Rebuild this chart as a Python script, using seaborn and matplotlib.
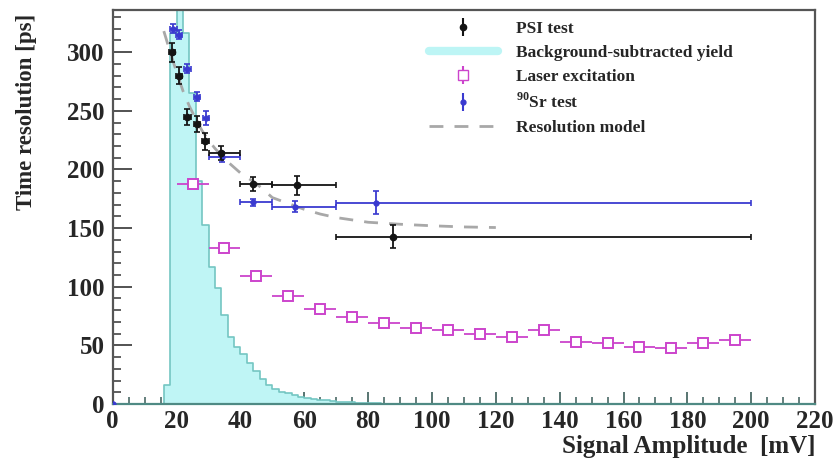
import numpy as np
import pandas as pd
import matplotlib
matplotlib.use("Agg")
import matplotlib.pyplot as plt
from matplotlib.lines import Line2D
from matplotlib.ticker import MultipleLocator
import seaborn as sns

# ---------------- data ----------------
# PSI beam test (black): mean amplitude, resolution, amplitude-bin limits, stat. error
psi_amp = [18.5, 20.8, 23.4, 26.3, 29.0, 34.0, 44.0, 57.6, 87.8]
psi_res = [300, 280, 245, 239, 224, 214, 188, 186.6, 142.8]
psi_lo = [17.5, 19.8, 22.4, 25.3, 28.0, 30, 40, 50, 70]
psi_hi = [19.5, 21.8, 24.4, 27.3, 30.0, 40, 50, 70, 200]
psi_err = [8, 7, 7, 7, 7, 6, 6, 8, 10]

# 90Sr source test (blue)
sr_amp = [0, 19.0, 20.8, 23.4, 26.3, 29.2, 34.2, 44.0, 57.0, 82.4]
sr_res = [0, 320, 315, 286, 262, 244, 210.5, 172, 168.4, 171.8]
sr_lo = [0, 18.0, 19.8, 22.4, 25.3, 28.2, 30, 40, 50, 70]
sr_hi = [0, 20.0, 21.8, 24.4, 27.3, 30.2, 40, 50, 70, 200]
sr_err = [0, 4, 4, 4, 4, 6, 4, 3, 5, 10]

# Laser excitation (magenta), 10 mV wide amplitude bins
laser_amp = [25, 35, 45, 55, 65, 75, 85, 95, 105, 115, 125, 135, 145, 155, 165, 175, 185, 195]
laser_res = [188, 133, 109, 92, 81, 74, 69, 65, 63, 60, 57, 63, 53, 52, 49, 48, 52, 55]
laser_half = 5
laser_err = 2.5

# Resolution model curve
model_amp = [16, 18, 20, 22, 24, 26, 28, 30, 32, 35, 40, 45, 50, 55, 60, 65, 70, 80, 90, 100, 110, 120]
model_res = [318, 300, 283, 267, 254, 243, 233, 225, 218, 209, 197, 188, 176, 171, 166, 162, 159, 155,
             153.3, 152, 151, 150.5]

# Background-subtracted signal amplitude yield (arbitrary scale), 2 mV bins from 16 mV
yield_start = 16
yield_width = 2
yield_counts = [16, 316, 460, 316, 265, 190, 153, 117, 99, 76, 57, 49, 43, 35, 28, 21, 16, 13, 10.5, 9,
                7.5, 6, 5, 4.2, 3.5, 3, 2.5, 2, 1.6, 1.3, 1.0, 0.8, 0.6, 0.5, 0.4, 0.3]

# ---------------- style ----------------
sns.set_theme(style="ticks")
plt.rcParams["font.family"] = ["Liberation Serif", "DejaVu Serif"]
plt.rcParams["font.weight"] = "bold"
plt.rcParams["axes.labelweight"] = "bold"
plt.rcParams["mathtext.fontset"] = "custom"
plt.rcParams["mathtext.bf"] = "Liberation Serif:bold"
plt.rcParams["mathtext.rm"] = "Liberation Serif:bold"

fig = plt.figure(figsize=(8.37, 4.63), dpi=100)
ax = fig.add_axes([0.1347, 0.1274, 0.8391, 0.8510])

# histogram of the signal yield
edges = [yield_start + yield_width * i for i in range(len(yield_counts) + 1)]
hist_df = pd.DataFrame({
    "amp": [0.5 * (edges[i] + edges[i + 1]) for i in range(len(yield_counts))],
    "count": yield_counts,
})
sns.histplot(data=hist_df, x="amp", weights="count", bins=edges, element="step", fill=True,
             color="#bdf5f5", alpha=1.0, ax=ax, zorder=1)
for coll in ax.collections:
    coll.set_edgecolor("#74c6c2")
    coll.set_linewidth(1.2)
    coll.set_facecolor("#bff5f5")

# resolution model
sns.lineplot(x=model_amp, y=model_res, color="#a8a8a8", linewidth=2.0, ax=ax, zorder=2)
ax.lines[-1].set_dashes([5, 4])


def bin_err(x, lo, hi):
    x, lo, hi = map(np.asarray, (x, lo, hi))
    return np.vstack([x - lo, hi - x])


psi_c = "#141414"
sr_c = "#3a3ad0"
las_c = "#cc44cc"

ax.errorbar(psi_amp, psi_res, xerr=bin_err(psi_amp, psi_lo, psi_hi), yerr=psi_err,
            fmt="o", ms=4.5, color=psi_c, ecolor=psi_c, elinewidth=1.3, capsize=2.5,
            capthick=1.2, zorder=5)
ax.errorbar(sr_amp, sr_res, xerr=bin_err(sr_amp, sr_lo, sr_hi), yerr=sr_err,
            fmt="o", ms=3.5, color=sr_c, ecolor=sr_c, elinewidth=1.3, capsize=2.5,
            capthick=1.2, zorder=4)
ax.errorbar(laser_amp, laser_res, xerr=laser_half, yerr=laser_err,
            fmt="s", ms=7, mfc="white", mec=las_c, mew=1.4, color=las_c, ecolor=las_c,
            elinewidth=1.3, capsize=0, zorder=4)

# axes
ax.set_xlim(0, 220)
ax.set_ylim(0, 336)
ax.xaxis.set_major_locator(MultipleLocator(20))
ax.xaxis.set_minor_locator(MultipleLocator(5))
ax.yaxis.set_major_locator(MultipleLocator(50))
ax.yaxis.set_minor_locator(MultipleLocator(10))
ax.tick_params(axis="y", which="major", direction="in", length=14, width=1.3, color="#444444",
               labelsize=18, pad=6)
ax.tick_params(axis="y", which="minor", direction="in", length=6, width=1.2, color="#444444")
ax.tick_params(axis="x", which="major", direction="in", length=9, width=1.3, color="#4a6a66",
               labelsize=18, pad=4)
ax.tick_params(axis="x", which="minor", direction="in", length=5, width=1.2, color="#4a6a66")
for lab in ax.get_xticklabels() + ax.get_yticklabels():
    lab.set_fontweight("bold")
for side in ["top", "right", "left"]:
    ax.spines[side].set_visible(True)
    ax.spines[side].set_linewidth(1.6)
    ax.spines[side].set_color("#555555")
ax.spines["bottom"].set_linewidth(1.6)
ax.spines["bottom"].set_color("#4f8a84")

ax.set_xlabel("Signal Amplitude  [mV]", fontsize=18, fontweight="bold", loc="right")
ax.set_ylabel("Time resolution [ps]", fontsize=16.5, fontweight="bold", loc="top")
ax.xaxis.set_label_coords(1.0, -0.078)
ax.yaxis.set_label_coords(-0.108, 0.99)

# legend
h_psi = ax.errorbar([], [], yerr=[], fmt="o", ms=4.5, color=psi_c, capsize=3)
h_bg = Line2D([], [], color="#bdf5f5", linewidth=6)
h_las = ax.errorbar([], [], yerr=[], fmt="s", ms=7, mfc="white", mec=las_c, color=las_c, capsize=3)
h_sr = ax.errorbar([], [], yerr=[], fmt="o", ms=3.5, color=sr_c, capsize=3)
h_mod = Line2D([], [], color="#a8a8a8", linewidth=2, dashes=[5, 4])
leg = ax.legend([h_psi, h_bg, h_las, h_sr, h_mod],
                ["PSI test", "Background-subtracted yield", "Laser excitation",
                 r"$^{\mathbf{90}}$Sr test", "Resolution model"],
                loc="upper left", bbox_to_anchor=(0.44, 0.99), frameon=False,
                prop={"family": "Liberation Serif", "weight": "bold", "size": 12.5},
                handlelength=4.0, handletextpad=1.0, labelspacing=0.45, borderaxespad=0)

fig.savefig("out.png", dpi=100)
